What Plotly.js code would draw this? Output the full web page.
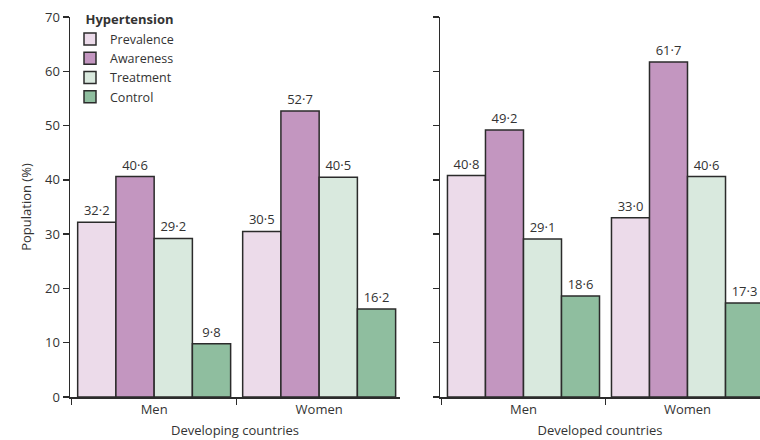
<!DOCTYPE html>
<html>
<head>
<meta charset="utf-8">
<script src="https://cdn.plot.ly/plotly-3.0.1.min.js"></script>
<style>html,body{margin:0;padding:0;background:#fff;}#chart{width:760px;height:440px;}</style>
</head>
<body>
<div id="chart"></div>
<script>
const groups = ['Men', 'Women'];
const seriesNames = ['Prevalence', 'Awareness', 'Treatment', 'Control'];
const developing = {
  Prevalence: [32.2, 30.5],
  Awareness: [40.6, 52.7],
  Treatment: [29.2, 40.5],
  Control: [9.8, 16.2]
};
const developed = {
  Prevalence: [40.8, 33.0],
  Awareness: [49.2, 61.7],
  Treatment: [29.1, 40.6],
  Control: [18.6, 17.3]
};
const colors = {
  Prevalence: '#ecdbea',
  Awareness: '#c396c0',
  Treatment: '#d9e9de',
  Control: '#8fbe9f'
};
const fontFam = 'Open Sans, Lato, sans-serif';
const txtColor = '#333333';
const fmt = v => v.toFixed(1).replace('.', '\u00b7');

const traces = [];
seriesNames.forEach(name => {
  traces.push({
    type: 'bar', name: name, x: groups, y: developing[name],
    xaxis: 'x', yaxis: 'y',
    marker: {color: colors[name], line: {color: '#2b2b2b', width: 1.5}},
    text: developing[name].map(fmt), textposition: 'outside',
    textfont: {size: 13, color: txtColor, family: fontFam},
    legendgroup: name, showlegend: true, hoverinfo: 'none'
  });
});
seriesNames.forEach(name => {
  traces.push({
    type: 'bar', name: name, x: groups, y: developed[name],
    xaxis: 'x2', yaxis: 'y2',
    marker: {color: colors[name], line: {color: '#2b2b2b', width: 1.5}},
    text: developed[name].map(fmt), textposition: 'outside',
    textfont: {size: 13, color: txtColor, family: fontFam},
    legendgroup: name, showlegend: false, hoverinfo: 'none'
  });
});

const xCommon = {
  type: 'category', tickson: 'boundaries', ticks: 'outside', ticklen: 6, tickwidth: 1.5,
  tickcolor: '#2b2b2b', showline: true, linecolor: '#2b2b2b', linewidth: 1.5,
  showgrid: false, zeroline: false, automargin: false,
  tickfont: {size: 13, color: txtColor, family: fontFam}
};
const yCommon = {
  range: [0, 70], dtick: 10, ticks: 'outside', ticklen: 6, tickwidth: 1.5,
  tickcolor: '#2b2b2b', showline: true, linecolor: '#2b2b2b', linewidth: 1.5,
  showgrid: false, zeroline: false, automargin: false,
  tickfont: {size: 13, color: txtColor, family: fontFam}
};

const layout = {
  width: 760, height: 440,
  margin: {l: 0, r: 0, t: 17, b: 43},
  paper_bgcolor: '#ffffff', plot_bgcolor: '#ffffff',
  font: {family: fontFam, color: txtColor, size: 13},
  barmode: 'group', bargap: 0.073, bargroupgap: 0,
  xaxis: Object.assign({}, xCommon, {
    domain: [70/760, 400/760], range: [-0.51, 1.49], anchor: 'y',
    title: {text: 'Developing countries', standoff: 9, font: {size: 13, color: txtColor}}
  }),
  yaxis: Object.assign({}, yCommon, {
    domain: [0, 1], anchor: 'x',
    title: {text: 'Population (%)', standoff: 10, font: {size: 13, color: txtColor}}
  }),
  xaxis2: Object.assign({}, xCommon, {
    domain: [440/760, 1], range: [-0.509, 1.442], anchor: 'y2',
    title: {text: 'Developed countries', standoff: 9, font: {size: 13, color: txtColor}}
  }),
  yaxis2: Object.assign({}, yCommon, {
    domain: [0, 1], anchor: 'x2', showticklabels: false
  }),
  legend: {
    x: 70/760, y: 1.025, xanchor: 'left', yanchor: 'top',
    bgcolor: 'rgba(0,0,0,0)', tracegroupgap: 0,
    title: {text: '\u00a0\u00a0\u00a0\u00a0<b>Hypertension</b>', font: {size: 13, color: txtColor}},
    font: {size: 12.5, color: txtColor, family: fontFam}
  },
  showlegend: true
};

Plotly.newPlot('chart', traces, layout, {staticPlot: true, displayModeBar: false});
</script>
</body>
</html>
